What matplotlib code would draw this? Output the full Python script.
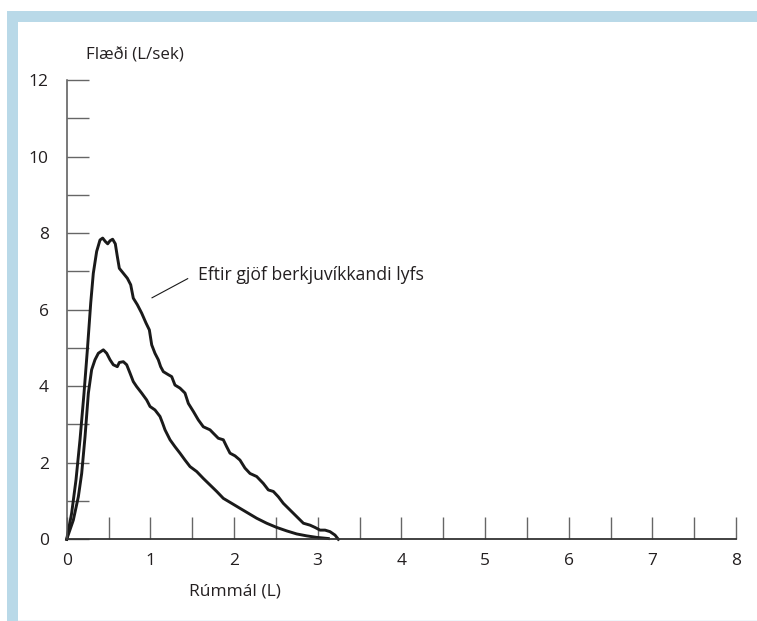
import matplotlib
matplotlib.use("Agg")
import matplotlib.pyplot as plt
from matplotlib.patches import Rectangle
from matplotlib.ticker import MultipleLocator

# Flow-volume curve before treatment (volume in L, flow in L/s)
before_volume = [0.0, 0.079, 0.139, 0.179, 0.219, 0.259, 0.298, 0.338, 0.378, 0.438,
                 0.478, 0.518, 0.557, 0.605, 0.629, 0.677, 0.717, 0.757, 0.796, 0.836,
                 0.896, 0.956, 0.996, 1.055, 1.115, 1.147, 1.175, 1.235, 1.294, 1.354,
                 1.414, 1.474, 1.554, 1.633, 1.713, 1.793, 1.872, 1.972, 2.071, 2.171,
                 2.271, 2.390, 2.510, 2.629, 2.749, 2.868, 2.988, 3.127]
before_flow = [0.0, 0.50, 1.11, 1.72, 2.68, 3.82, 4.43, 4.69, 4.86, 4.95,
               4.86, 4.69, 4.56, 4.51, 4.62, 4.64, 4.56, 4.34, 4.12, 3.99,
               3.82, 3.64, 3.47, 3.38, 3.21, 3.03, 2.86, 2.60, 2.42, 2.25,
               2.07, 1.90, 1.77, 1.59, 1.42, 1.25, 1.07, 0.94, 0.81, 0.68,
               0.55, 0.42, 0.31, 0.22, 0.14, 0.09, 0.05, 0.02]

# Flow-volume curve after bronchodilator
after_volume = [0.0, 0.059, 0.111, 0.159, 0.207, 0.247, 0.287, 0.318, 0.358, 0.398,
                0.430, 0.462, 0.490, 0.518, 0.549, 0.581, 0.605, 0.629, 0.677, 0.725,
                0.765, 0.796, 0.844, 0.896, 0.948, 0.988, 1.016, 1.055, 1.095, 1.123,
                1.155, 1.215, 1.255, 1.294, 1.354, 1.414, 1.454, 1.514, 1.573, 1.633,
                1.713, 1.753, 1.812, 1.872, 1.912, 1.952, 2.012, 2.071, 2.131, 2.191,
                2.271, 2.350, 2.410, 2.470, 2.530, 2.589, 2.649, 2.709, 2.769, 2.829,
                2.908, 2.968, 3.028, 3.088, 3.147, 3.207, 3.247]
after_flow = [0.0, 0.68, 1.55, 2.60, 3.82, 4.95, 6.17, 6.95, 7.52, 7.82,
              7.87, 7.78, 7.72, 7.80, 7.84, 7.72, 7.39, 7.08, 6.95, 6.82,
              6.65, 6.30, 6.13, 5.91, 5.65, 5.47, 5.08, 4.86, 4.69, 4.51,
              4.38, 4.30, 4.25, 4.03, 3.95, 3.82, 3.55, 3.34, 3.12, 2.94,
              2.86, 2.77, 2.64, 2.60, 2.42, 2.25, 2.18, 2.07, 1.86, 1.72,
              1.64, 1.46, 1.29, 1.25, 1.11, 0.94, 0.81, 0.68, 0.55, 0.42,
              0.37, 0.31, 0.24, 0.24, 0.20, 0.11, 0.0]

x_ticks = [0, 1, 2, 3, 4, 5, 6, 7, 8]
y_ticks = [0, 2, 4, 6, 8, 10, 12]
y_label = "Flæði (L/sek)"
x_label = "Rúmmál (L)"
after_label = "Eftir gjöf berkjuvíkkandi lyfs"

W, H = 757, 621
plt.rcParams["font.family"] = ["Open Sans", "DejaVu Sans"]
text_color = "#231f20"

fig = plt.figure(figsize=(W / 100, H / 100), dpi=100)
fig.patch.set_facecolor("white")

# Light blue frame along the top and left edges
band = "#b9d9e8"
fig.patches.append(Rectangle((7 / W, 1 - 22 / H), 1 - 7 / W, 11 / H,
                             transform=fig.transFigure, color=band, lw=0))
fig.patches.append(Rectangle((7 / W, 0), 11 / W, 1 - 11 / H,
                             transform=fig.transFigure, color=band, lw=0))
fig.patches.append(Rectangle((18 / W, 0), 1 - 18 / W, 1.5 / H,
                             transform=fig.transFigure, color="#eef6fa", lw=0))

ax = fig.add_axes([66.7 / W, 1 - 539.3 / H, (736 - 66.7) / W, (539.3 - 80) / H])
ax.set_xlim(0, 8)
ax.set_ylim(0, 12)
ax.patch.set_alpha(0)

for s in ("top", "right"):
    ax.spines[s].set_visible(False)
ax.spines["left"].set_color("#555555")
ax.spines["bottom"].set_color("#333333")
ax.spines["left"].set_linewidth(1.1)
ax.spines["bottom"].set_linewidth(1.3)

ax.set_xticks(x_ticks)
ax.set_yticks(y_ticks)
ax.xaxis.set_minor_locator(MultipleLocator(0.5))
ax.yaxis.set_minor_locator(MultipleLocator(1))
ax.tick_params(which="both", direction="in", length=16, width=1.0, color="#666666")
ax.tick_params(axis="x", which="major", pad=10, labelsize=12.5, labelcolor=text_color)
ax.tick_params(axis="y", which="major", pad=13, labelsize=12.5, labelcolor=text_color)

ax.plot(before_volume, before_flow, color="#1a1a1a", lw=2.1,
        solid_joinstyle="round", clip_on=False)
ax.plot(after_volume, after_flow, color="#1a1a1a", lw=2.1,
        solid_joinstyle="round", clip_on=False)

# Leader line and label for the post-bronchodilator curve
ax.plot([1.02, 1.446], [6.31, 6.81], color="#1a1a1a", lw=0.8)
ax.text(1.57, 6.91, after_label, fontsize=12.7, color=text_color,
        ha="left", va="center")

fig.text(135 / W, 1 - 55 / H, y_label, fontsize=12.2, color=text_color,
         ha="center", va="center")
fig.text(235 / W, 1 - 591 / H, x_label, fontsize=12.5, color=text_color,
         ha="center", va="center")

fig.savefig("out.png", dpi=100)
